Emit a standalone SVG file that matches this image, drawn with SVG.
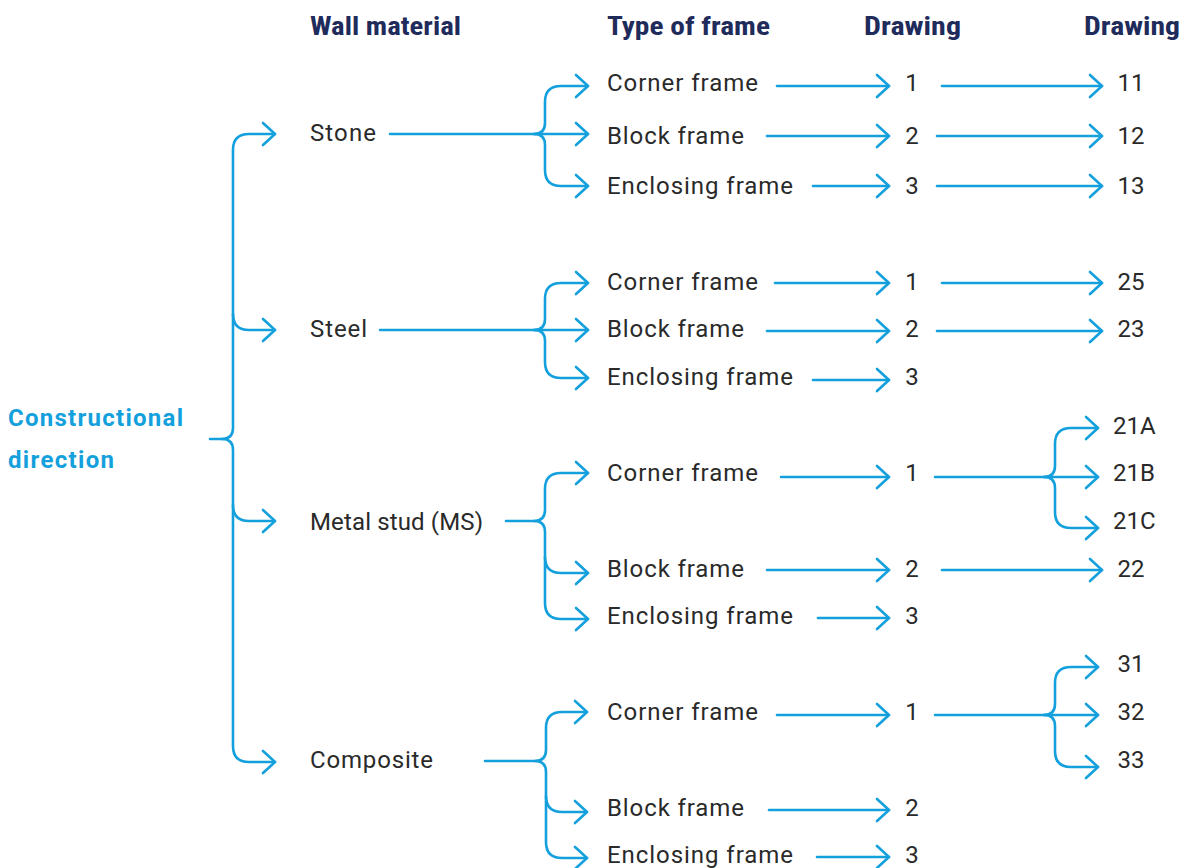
<svg xmlns="http://www.w3.org/2000/svg" width="1189" height="868" viewBox="0 0 1189 868">
<defs>
<marker id="ah" markerUnits="userSpaceOnUse" markerWidth="30" markerHeight="30" viewBox="-15 -15 30 30" refX="0" refY="0" orient="auto" overflow="visible">
<path d="M-12,-11 L0,0 L-12,11" fill="none" stroke="#14a0dc" stroke-width="2.6" stroke-linecap="round" stroke-linejoin="round"/>
</marker>
</defs>
<style>
.h{font-family:"Roboto Condensed","Roboto","Liberation Sans",sans-serif;font-weight:bold;font-size:25px;fill:#1f2b5b}
.t{font-family:"Roboto","Liberation Sans",sans-serif;font-size:24px;fill:#2a2a2a}
.n{font-family:"Roboto","Liberation Sans",sans-serif;font-size:24px;fill:#2a2a2a;text-anchor:middle}
.b{font-family:"Roboto","Liberation Sans",sans-serif;font-weight:bold;font-size:24px;fill:#14a0dc}
</style>
<rect width="1189" height="868" fill="#ffffff"/>
<g id="headers">
<text class="h" x="310" y="35" textLength="151" lengthAdjust="spacingAndGlyphs">Wall material</text>
<text class="h" x="607" y="35" textLength="163" lengthAdjust="spacingAndGlyphs">Type of frame</text>
<text class="h" x="864" y="35" textLength="97" lengthAdjust="spacingAndGlyphs">Drawing</text>
<text class="h" x="1084" y="35" textLength="96" lengthAdjust="spacingAndGlyphs">Drawing</text>
</g>
<g id="root"><text class="b" x="8" y="426" textLength="175">Constructional</text><text class="b" x="8" y="468" textLength="106">direction</text></g>
<g id="stone"><text class="t" x="310" y="141" textLength="66">Stone</text></g>
<g id="steel"><text class="t" x="310" y="337" textLength="57">Steel</text></g>
<g id="ms"><text class="t" x="310" y="530" textLength="173">Metal stud (MS)</text></g>
<g id="composite"><text class="t" x="310" y="768" textLength="123">Composite</text></g>
<g id="stone-frames">
<text class="t" x="607" y="91" textLength="151">Corner frame</text>
<text class="t" x="607" y="144" textLength="137">Block frame</text>
<text class="t" x="607" y="194" textLength="186">Enclosing frame</text>
<text class="n" x="912" y="91">1</text><text class="n" x="912" y="144">2</text><text class="n" x="912" y="194">3</text>
<text class="n" x="1131" y="91">11</text><text class="n" x="1131" y="144">12</text><text class="n" x="1131" y="194">13</text>
</g>
<g id="steel-frames">
<text class="t" x="607" y="290" textLength="151">Corner frame</text>
<text class="t" x="607" y="337" textLength="137">Block frame</text>
<text class="t" x="607" y="385" textLength="186">Enclosing frame</text>
<text class="n" x="912" y="290">1</text><text class="n" x="912" y="337">2</text><text class="n" x="912" y="385">3</text>
<text class="n" x="1131" y="290">25</text><text class="n" x="1131" y="337">23</text>
</g>
<g id="ms-frames">
<text class="t" x="607" y="481" textLength="151">Corner frame</text>
<text class="t" x="607" y="577" textLength="137">Block frame</text>
<text class="t" x="607" y="624" textLength="186">Enclosing frame</text>
<text class="n" x="912" y="481">1</text><text class="n" x="912" y="577">2</text><text class="n" x="912" y="624">3</text>
<text class="t" x="1113" y="434">21A</text><text class="t" x="1113" y="481">21B</text><text class="t" x="1113" y="529">21C</text>
<text class="n" x="1131" y="577">22</text>
</g>
<g id="composite-frames">
<text class="t" x="607" y="720" textLength="151">Corner frame</text>
<text class="t" x="607" y="816" textLength="137">Block frame</text>
<text class="t" x="607" y="863" textLength="186">Enclosing frame</text>
<text class="n" x="912" y="720">1</text><text class="n" x="912" y="816">2</text><text class="n" x="912" y="863">3</text>
<text class="n" x="1131" y="672">31</text><text class="n" x="1131" y="720">32</text><text class="n" x="1131" y="768">33</text>
</g>
<g id="connectors" fill="none" stroke="#14a0dc" stroke-width="2.6" stroke-linecap="round">
<path d="M210,439 H222 Q233,439 233,428 V150 Q233,134 249,134 H275" marker-end="url(#ah)"/>
<path d="M222,439 Q233,439 233,450 V746 Q233,762 249,762 H275" marker-end="url(#ah)"/>
<path d="M233,314 Q233,330 249,330 H275" marker-end="url(#ah)"/>
<path d="M233,505 Q233,521 249,521 H275" marker-end="url(#ah)"/>
<path d="M390,134 H534 Q545,134 545,123 V102 Q545,86 561,86 H588" marker-end="url(#ah)"/>
<path d="M534,134 Q545,134 545,145 V170 Q545,186 561,186 H588" marker-end="url(#ah)"/>
<path d="M534,134 H588" marker-end="url(#ah)"/>
<path d="M777,86 H889" marker-end="url(#ah)"/><path d="M942,86 H1102" marker-end="url(#ah)"/>
<path d="M767,136 H889" marker-end="url(#ah)"/><path d="M937,136 H1102" marker-end="url(#ah)"/>
<path d="M813,186 H889" marker-end="url(#ah)"/><path d="M937,186 H1102" marker-end="url(#ah)"/>
<path d="M380,330 H534 Q545,330 545,319 V299 Q545,283 561,283 H588" marker-end="url(#ah)"/>
<path d="M534,330 Q545,330 545,341 V362 Q545,378 561,378 H588" marker-end="url(#ah)"/>
<path d="M534,330 H588" marker-end="url(#ah)"/>
<path d="M775,283 H889" marker-end="url(#ah)"/><path d="M942,283 H1102" marker-end="url(#ah)"/>
<path d="M767,331 H889" marker-end="url(#ah)"/><path d="M937,331 H1102" marker-end="url(#ah)"/>
<path d="M813,380 H889" marker-end="url(#ah)"/>
<path d="M506,521 H534 Q545,521 545,510 V489 Q545,473 561,473 H588" marker-end="url(#ah)"/>
<path d="M534,521 Q545,521 545,532 V557 Q545,573 561,573 H588" marker-end="url(#ah)"/>
<path d="M545,557 V603 Q545,619 561,619 H588" marker-end="url(#ah)"/>
<path d="M781,477 H889" marker-end="url(#ah)"/>
<path d="M935,477 H1044 Q1055,477 1055,466 V444 Q1055,428 1071,428 H1098" marker-end="url(#ah)"/>
<path d="M1044,477 Q1055,477 1055,488 V512 Q1055,528 1071,528 H1098" marker-end="url(#ah)"/>
<path d="M1044,477 H1098" marker-end="url(#ah)"/>
<path d="M767,570 H889" marker-end="url(#ah)"/><path d="M942,570 H1102" marker-end="url(#ah)"/>
<path d="M818,618 H889" marker-end="url(#ah)"/>
<path d="M485,761 H535 Q546,761 546,750 V728 Q546,712 562,712 H587" marker-end="url(#ah)"/>
<path d="M535,761 Q546,761 546,772 V796 Q546,812 562,812 H587" marker-end="url(#ah)"/>
<path d="M546,796 V842 Q546,858 562,858 H587" marker-end="url(#ah)"/>
<path d="M777,715 H889" marker-end="url(#ah)"/>
<path d="M935,715 H1044 Q1055,715 1055,704 V683 Q1055,667 1071,667 H1098" marker-end="url(#ah)"/>
<path d="M1044,715 Q1055,715 1055,726 V751 Q1055,767 1071,767 H1098" marker-end="url(#ah)"/>
<path d="M1044,715 H1098" marker-end="url(#ah)"/>
<path d="M769,810 H889" marker-end="url(#ah)"/>
<path d="M817,857 H889" marker-end="url(#ah)"/>
</g>
</svg>
